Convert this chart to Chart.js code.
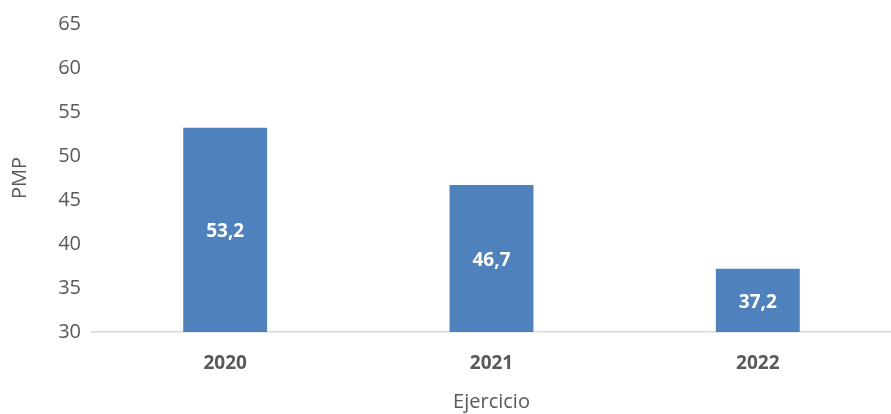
<!DOCTYPE html>
<html>
<head>
<meta charset="utf-8">
<script src="https://cdn.jsdelivr.net/npm/chart.js@4"></script>
<style>
  html, body { margin: 0; padding: 0; background: #fff; }
  #wrap { width: 891px; height: 414px; }
</style>
</head>
<body>
<div id="wrap"><canvas id="pmpChart"></canvas></div>
<script>
// datos del gráfico
const categories = ['2020', '2021', '2022'];
const pmpValues = [53.2, 46.7, 37.2];
const yTicks = [30, 35, 40, 45, 50, 55, 60, 65];

const FONT = '"Open Sans", "Liberation Sans", sans-serif';

// etiquetas dentro de las barras
const barLabels = {
    id: 'barLabels',
    afterDatasetsDraw(chart) {
        const ctx = chart.ctx;
        const meta = chart.getDatasetMeta(0);
        const yScale = chart.scales.y;
        ctx.save();
        ctx.fillStyle = '#ffffff';
        ctx.font = 'bold 19px ' + FONT;
        ctx.textAlign = 'center';
        ctx.textBaseline = 'middle';
        meta.data.forEach((bar, i) => {
            const top = yScale.getPixelForValue(pmpValues[i]);
            const bottom = yScale.getPixelForValue(yScale.min);
            const txt = pmpValues[i].toFixed(1).replace('.', ',');
            ctx.fillText(txt, bar.x, (top + bottom) / 2 + 2);
        });
        ctx.restore();
    }
};

new Chart(document.getElementById('pmpChart'), {
    type: 'bar',
    data: {
        labels: categories,
        datasets: [{
            label: 'PMP',
            data: pmpValues,
            backgroundColor: '#4f81bd',
            barPercentage: 0.63,
            categoryPercentage: 0.5
        }]
    },
    options: {
        responsive: true,
        maintainAspectRatio: false,
        animation: false,
        layout: { padding: { top: 24, right: 0, left: 0, bottom: 0 } },
        plugins: {
            legend: { display: false },
            tooltip: { enabled: false }
        },
        scales: {
            x: {
                grid: { display: false, drawTicks: false },
                border: { display: true, color: '#d9d9d9', width: 1.5 },
                ticks: {
                    color: '#595959',
                    font: { family: FONT, size: 19, weight: 'bold' },
                    padding: 20
                },
                title: {
                    display: true,
                    text: 'Ejercicio',
                    color: '#595959',
                    font: { family: FONT, size: 20 },
                    padding: { top: 0, bottom: 0 }
                },
                afterFit(scale) { scale.height = 82; }
            },
            y: {
                min: 30,
                max: 65,
                afterBuildTicks(scale) {
                    scale.ticks = yTicks.map(v => ({ value: v }));
                },
                grid: { display: false, drawTicks: false },
                border: { display: false },
                ticks: {
                    color: '#595959',
                    font: { family: FONT, size: 20 },
                    padding: 11
                },
                title: {
                    display: true,
                    text: 'PMP',
                    color: '#595959',
                    font: { family: FONT, size: 20 },
                    padding: { top: 8, bottom: 8 }
                },
                afterFit(scale) { scale.width = 92; }
            }
        }
    },
    plugins: [barLabels]
});
</script>
</body>
</html>
